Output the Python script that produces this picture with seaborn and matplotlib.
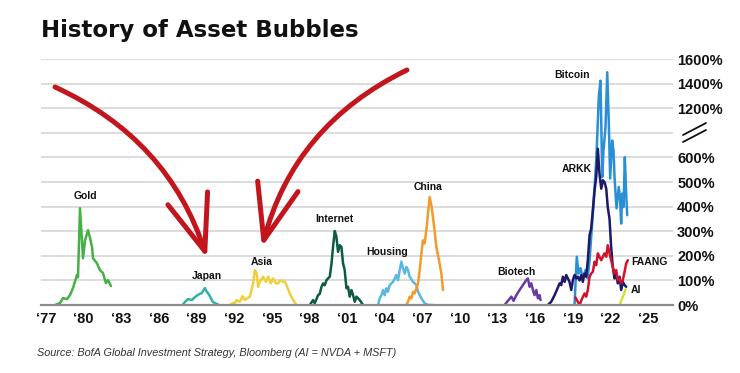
import numpy as np
import pandas as pd
import seaborn as sns
import matplotlib.pyplot as plt
from matplotlib.patches import FancyArrowPatch
from matplotlib.lines import Line2D

# ---- data (years as decimal, gain in %) ----
gold_years = [1977.72, 1978.12, 1978.35, 1978.67, 1978.91, 1979.15, 1979.47, 1979.55, 1979.71, 1979.95,
              1980.11, 1980.35, 1980.51, 1980.67, 1980.75, 1981.06, 1981.30, 1981.54, 1981.78, 1981.94, 1982.18]
gold_pct = [0, 8, 28, 24, 40, 69, 122, 113, 393, 190, 263, 304, 272, 235, 190, 170, 142, 130, 89, 101, 77]

japan_years = [1987.89, 1988.08, 1988.31, 1988.63, 1988.87, 1989.11, 1989.43, 1989.67, 1989.83, 1989.91,
               1990.07, 1990.31, 1990.63, 1990.79]
japan_pct = [0, 12, 24, 20, 32, 41, 49, 69, 53, 49, 36, 12, 4, 0]

asia_years = [1991.66, 1991.88, 1992.06, 1992.20, 1992.46, 1992.67, 1992.86, 1993.04, 1993.25, 1993.39,
              1993.52, 1993.65, 1993.79, 1993.92, 1994.05, 1994.31, 1994.53, 1994.71, 1994.92, 1995.11,
              1995.33, 1995.51, 1995.70, 1995.91, 1996.04, 1996.18, 1996.44, 1996.71, 1996.98]
asia_pct = [0, 8, 7, 20, 13, 36, 20, 27, 34, 61, 89, 142, 130, 74, 94, 115, 94, 115, 88, 108,
            88, 88, 101, 94, 94, 81, 47, 20, 0]

internet_years = [1998.04, 1998.30, 1998.43, 1998.70, 1998.83, 1998.97, 1999.10, 1999.23, 1999.37, 1999.49,
                  1999.63, 1999.77, 1999.89, 2000.03, 2000.16, 2000.29, 2000.43, 2000.56, 2000.69, 2000.82,
                  2000.96, 2001.09, 2001.22, 2001.36, 2001.49, 2001.62, 2001.76, 2002.02, 2002.28]
internet_pct = [0, 20, 7, 40, 45, 74, 88, 80, 101, 108, 115, 169, 236, 301, 277, 216, 243, 236, 169, 142,
                68, 74, 34, 61, 40, 13, 34, 20, 0]

housing_years = [2003.48, 2003.61, 2003.75, 2003.88, 2004.01, 2004.15, 2004.27, 2004.41, 2004.67, 2004.94,
                 2005.07, 2005.21, 2005.34, 2005.47, 2005.61, 2005.74, 2005.87, 2006.00, 2006.27, 2006.54,
                 2006.67, 2006.94, 2007.20, 2007.46, 2007.86]
housing_pct = [0, 27, 40, 61, 40, 68, 54, 81, 94, 122, 101, 142, 176, 149, 128, 155, 142, 115, 94, 81,
               54, 27, 7, 0, 0]

china_years = [2005.74, 2005.87, 2006.00, 2006.14, 2006.27, 2006.40, 2006.54, 2006.67, 2006.80, 2006.94,
               2007.06, 2007.20, 2007.28, 2007.38, 2007.46, 2007.60, 2007.73, 2007.86, 2008.00, 2008.13,
               2008.34, 2008.53, 2008.66]
china_pct = [0, 13, 34, 27, 54, 47, 68, 88, 142, 210, 263, 250, 284, 324, 372, 439, 405, 358, 297, 236,
             182, 128, 61]

biotech_years = [2013.57, 2013.84, 2014.11, 2014.29, 2014.51, 2014.77, 2015.03, 2015.30, 2015.43, 2015.57,
                 2015.70, 2015.83, 2015.96, 2016.10, 2016.23, 2016.36, 2016.44]
biotech_pct = [0, 17, 34, 17, 40, 61, 81, 101, 108, 74, 88, 61, 40, 61, 27, 40, 20]

arkk_years = [2017.02, 2017.29, 2017.56, 2017.74, 2017.96, 2018.09, 2018.22, 2018.36, 2018.49, 2018.62,
              2018.75, 2018.89, 2019.02, 2019.15, 2019.29, 2019.41, 2019.55, 2019.69, 2019.81, 2019.95,
              2020.08, 2020.21, 2020.35, 2020.48, 2020.61, 2020.75, 2020.88, 2021.01, 2021.14, 2021.28,
              2021.41, 2021.54, 2021.68, 2021.80, 2021.94, 2022.07, 2022.20, 2022.34, 2022.47, 2022.60,
              2022.74, 2022.87, 2023.00, 2023.14, 2023.27]
arkk_pct = [0, 13, 40, 61, 88, 81, 115, 94, 122, 108, 94, 61, 101, 122, 108, 115, 100, 122, 94, 128,
            115, 182, 284, 311, 385, 466, 520, 635, 534, 473, 507, 500, 473, 398, 351, 236, 155, 108, 128, 88,
            115, 61, 94, 81, 74]

bitcoin_years = [2019.15, 2019.33, 2019.47, 2019.63, 2019.81, 2020.03, 2020.19, 2020.35, 2020.48, 2020.61,
                 2020.75, 2020.88, 2020.98, 2021.09, 2021.22, 2021.36, 2021.46, 2021.62, 2021.76, 2021.88,
                 2021.99, 2022.15, 2022.26, 2022.34, 2022.50, 2022.68, 2022.79, 2022.87, 2022.95, 2023.06,
                 2023.16, 2023.27, 2023.35]
bitcoin_pct = [0, 196, 128, 150, 108, 142, 109, 182, 277, 372, 480, 588, 745, 1302, 1424, 520, 628, 815, 1492, 950,
               514, 669, 628, 520, 393, 480, 426, 331, 453, 398, 601, 453, 365]

faang_years = [2019.22, 2019.41, 2019.55, 2019.76, 2019.95, 2020.08, 2020.21, 2020.35, 2020.48, 2020.61,
               2020.75, 2020.88, 2021.01, 2021.14, 2021.28, 2021.41, 2021.54, 2021.68, 2021.80, 2021.94,
               2022.07, 2022.20, 2022.34, 2022.47, 2022.60, 2022.74, 2022.87, 2023.00, 2023.14, 2023.27, 2023.40]
faang_pct = [31, 13, 0, 27, 47, 34, 61, 115, 128, 135, 176, 162, 210, 196, 182, 196, 210, 196, 243, 210,
             182, 155, 128, 142, 101, 108, 88, 101, 135, 169, 182]

ai_years = [2022.74, 2023.00, 2023.10, 2023.22]
ai_pct = [0, 34, 45, 64]

bubble_names = ['Gold', 'Japan', 'Asia', 'Internet', 'Housing', 'China', 'Biotech',
                'Bitcoin', 'ARKK', 'FAANG', 'AI']
series = [(gold_years, gold_pct), (japan_years, japan_pct), (asia_years, asia_pct),
          (internet_years, internet_pct), (housing_years, housing_pct), (china_years, china_pct),
          (biotech_years, biotech_pct), (bitcoin_years, bitcoin_pct), (arkk_years, arkk_pct),
          (faang_years, faang_pct), (ai_years, ai_pct)]
colors = ['#45b045', '#34b0a6', '#f1cf3a', '#0d5a45', '#5bb7e0', '#f29b2c', '#6b3a9e',
          '#2b8fd6', '#1c1a68', '#d1122a', '#d6e03a']

# label anchor for each bubble (year, %)
label_x = [1980.11, 1989.83, 1994.17, 2000.03, 2004.17, 2007.44, 2014.53, 2018.91, 2019.31, 2025.13, 2024.05]
label_y = [442, 118, 174, 349, 215, 478, 134, 1473, 551, 174, 61]

tick_years = list(range(1977, 2026, 3))
tick_labels = ['\u2018' + str(y)[2:] for y in tick_years]
pct_ticks = [0, 100, 200, 300, 400, 500, 600, 700, 1200, 1400, 1600]
pct_labels = ['0%', '100%', '200%', '300%', '400%', '500%', '600%', '', '1200%', '1400%', '1600%']

frames = [pd.DataFrame({'year': yr, 'pct': pc, 'bubble': nm}) for nm, (yr, pc) in zip(bubble_names, series)]
df = pd.concat(frames, ignore_index=True)


# broken axis: linear to 700, squeeze 700-1200 into one row, then 200 per row
def fwd(v):
    v = np.asarray(v, dtype=float)
    return np.where(v <= 700, v / 100, np.where(v <= 1200, 7 + (v - 700) / 500, 8 + (v - 1200) / 200))


def inv(u):
    u = np.asarray(u, dtype=float)
    return np.where(u <= 7, u * 100, np.where(u <= 8, 700 + (u - 7) * 500, 1200 + (u - 8) * 200))


sns.set_theme(style='white')
plt.rcParams['font.family'] = ['Liberation Sans', 'DejaVu Sans']

fig = plt.figure(figsize=(7.4, 3.73), dpi=100)
ax = fig.add_axes([0.0554, 0.1823, 0.854, 0.6595])
ax.set_yscale('function', functions=(fwd, inv))

sns.lineplot(data=df, x='year', y='pct', hue='bubble', hue_order=bubble_names,
             palette=dict(zip(bubble_names, colors)), estimator=None, sort=False,
             linewidth=1.8, legend=False, ax=ax)

ax.set_xlim(1976.6, 2027.0)
ax.set_ylim(0, 1600)
ax.set_xticks(tick_years)
ax.set_xticklabels(tick_labels)
ax.set_yticks(pct_ticks)
ax.set_yticklabels(pct_labels)
ax.yaxis.tick_right()
ax.tick_params(axis='both', length=0, labelsize=10.5, colors='#111111')
ax.tick_params(axis='x', pad=5)
ax.tick_params(axis='y', pad=3)
for lab in ax.get_xticklabels() + ax.get_yticklabels():
    lab.set_fontweight('bold')
ax.set_xlabel('')
ax.set_ylabel('')
ax.grid(axis='y', color='#d2d2d2', linewidth=1.1)
ax.set_axisbelow(True)
for s in ['top', 'left', 'right']:
    ax.spines[s].set_visible(False)
ax.spines['bottom'].set_color('#8c8c8c')
ax.spines['bottom'].set_linewidth(1.6)

for nm, lx, ly in zip(bubble_names, label_x, label_y):
    ax.text(lx, ly, nm, ha='center', va='center', fontsize=7.5, fontweight='bold', color='#111111')

# axis-break mark on the right
for dy in (0, 7):
    fig.add_artist(Line2D([683 / 740, 706 / 740], [(373 - 142 + dy) / 373, (373 - 130 + dy) / 373],
                          color='#111111', linewidth=1.3))

# red hand-drawn arrows
arrow_kw = dict(arrowstyle='->,head_length=0.4,head_width=0.15', mutation_scale=100,
                color='#c3151c', linewidth=3.6, capstyle='round', joinstyle='round',
                shrinkA=0, shrinkB=0, transform=None)
fig.add_artist(FancyArrowPatch((55, 373 - 87), (207, 373 - 258),
                               connectionstyle='arc3,rad=-0.22', **arrow_kw))
fig.add_artist(FancyArrowPatch((407, 373 - 70), (262, 373 - 247),
                               connectionstyle='arc3,rad=0.23', **arrow_kw))

fig.text(0.056, 0.90, 'History of Asset Bubbles', fontsize=16.5, fontweight='bold',
         family='DejaVu Sans', color='#111111', va='baseline')
fig.text(0.05, 0.054, 'Source: BofA Global Investment Strategy, Bloomberg (AI = NVDA + MSFT)',
         fontsize=7.8, fontstyle='italic', color='#333333', va='center')

fig.savefig('out.png', dpi=100, facecolor='white')
